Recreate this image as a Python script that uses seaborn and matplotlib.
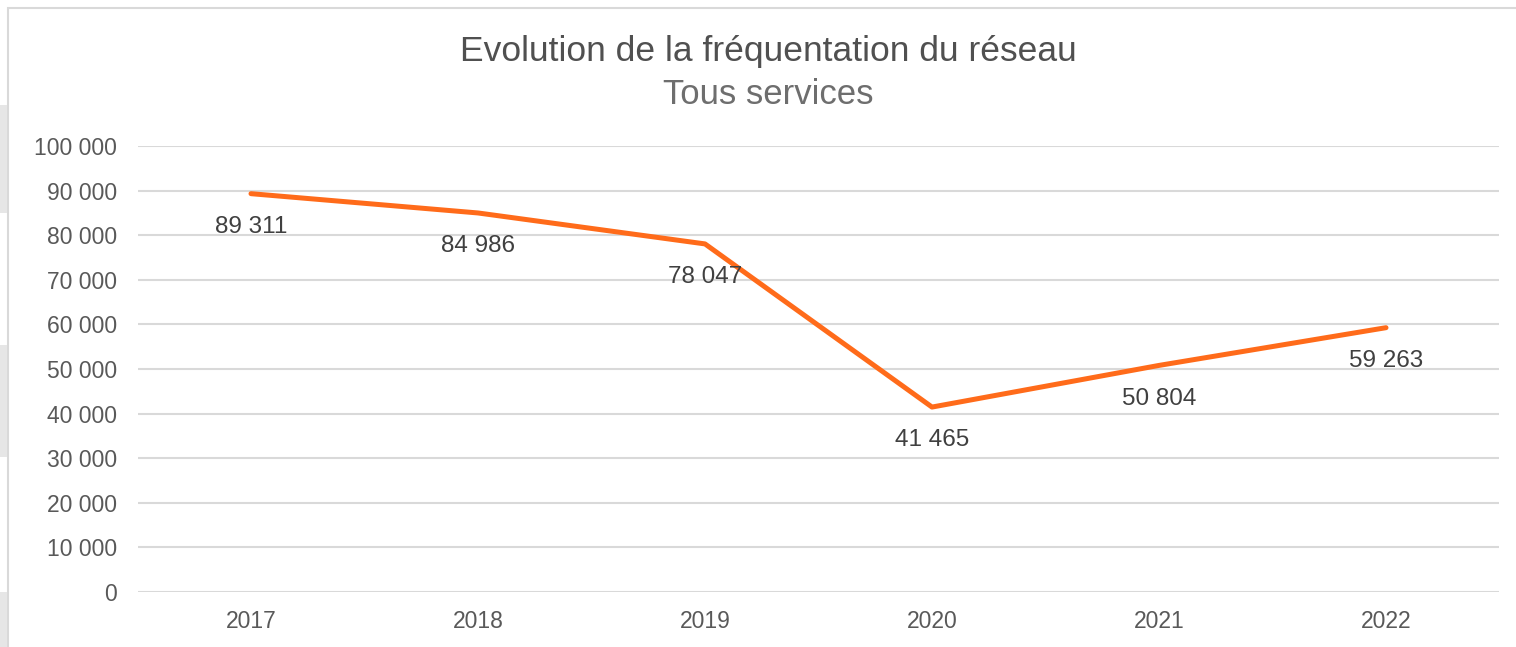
import matplotlib.pyplot as plt
import matplotlib.patches as patches
import matplotlib.ticker as ticker
import pandas as pd
import seaborn as sns

# Data
years = ['2017', '2018', '2019', '2020', '2021', '2022']
passengers = [89311, 84986, 78047, 41465, 50804, 59263]
y_ticks = list(range(0, 100001, 10000))

title = 'Evolution de la fréquentation du réseau'
subtitle = 'Tous services'

line_color = '#FF6B1A'
text_color = '#595959'
grid_color = '#D9D9D9'


def fr_thousands(v, pos=None):
    return '{:,.0f}'.format(v).replace(',', ' ')


df = pd.DataFrame({'Year': years, 'Passengers': passengers})

sns.set_theme(style='white')
plt.rcParams['font.family'] = ['Liberation Sans', 'DejaVu Sans']

fig = plt.figure(figsize=(15.16, 6.47), dpi=100)
fig.patch.set_facecolor('white')

# Chart frame and screenshot edge artifacts
fig.add_artist(patches.Rectangle((8 / 1516, -0.1), 1.2, (647 - 8) / 647 + 0.1,
                                 transform=fig.transFigure, fill=False,
                                 edgecolor=grid_color, linewidth=1.5))
for y0, y1 in [(105, 213), (345, 457), (592, 647)]:
    fig.add_artist(patches.Rectangle((0, 1 - y1 / 647), 7 / 1516, (y1 - y0) / 647,
                                     transform=fig.transFigure, facecolor='#E6E6E6',
                                     edgecolor='none'))

ax = fig.add_axes([137.5 / 1516, 55 / 647, 1362 / 1516, 446 / 647])
sns.lineplot(data=df, x='Year', y='Passengers', ax=ax, color=line_color,
             linewidth=3.6, sort=False)
ax.lines[0].set_solid_capstyle('round')
ax.lines[0].set_solid_joinstyle('round')

ax.set_xlim(-0.5, len(years) - 0.5)
ax.set_ylim(0, 100000)
ax.set_yticks(y_ticks)
ax.yaxis.set_major_formatter(ticker.FuncFormatter(fr_thousands))
ax.grid(axis='y', color=grid_color, linewidth=1.5)
ax.set_axisbelow(True)
for s in ax.spines.values():
    s.set_visible(False)
ax.tick_params(axis='both', length=0, labelsize=16.5, labelcolor=text_color)
ax.tick_params(axis='y', pad=15)
ax.tick_params(axis='x', pad=13)
ax.set_xlabel('')
ax.set_ylabel('')

# Data labels below each point
for i, v in enumerate(passengers):
    ax.annotate(fr_thousands(v), (i, v), xytext=(0, -24), textcoords='offset points',
                ha='center', va='center', fontsize=17.5, color='#404040')

fig.text(0.507, 1 - 51 / 647, title, ha='center', va='center', fontsize=25.5,
         color='#505050')
fig.text(0.507, 1 - 94 / 647, subtitle, ha='center', va='center', fontsize=25,
         color='#6E6E6E')

plt.savefig('out.png', dpi=100)
